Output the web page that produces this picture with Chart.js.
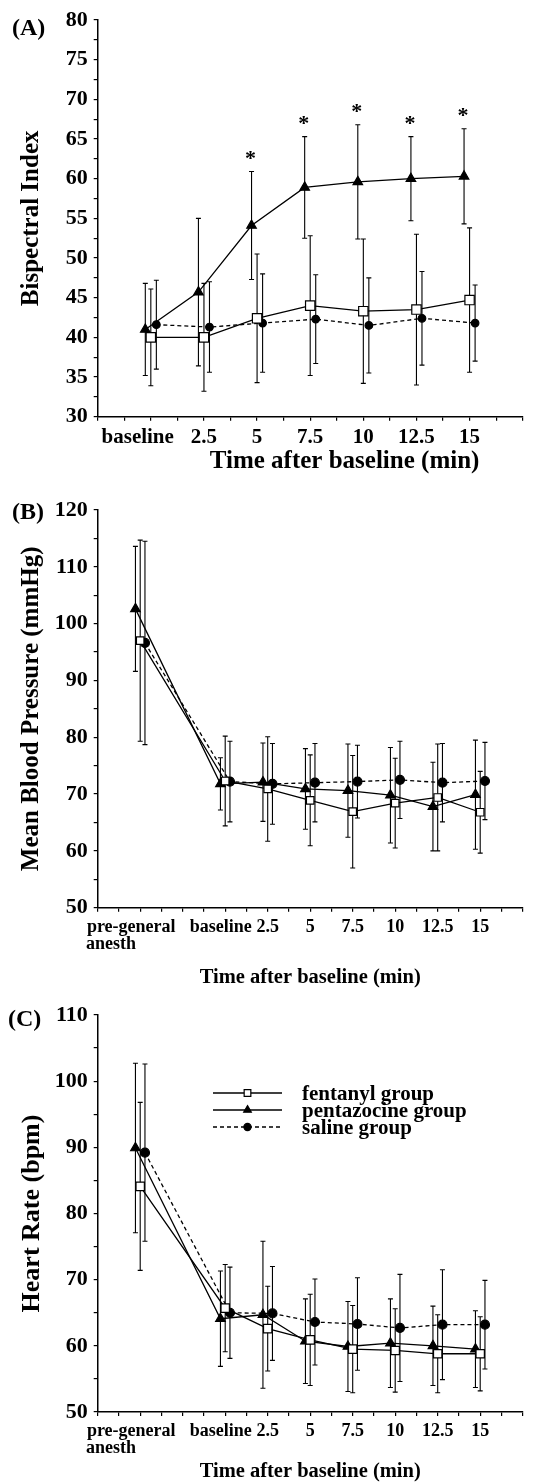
<!DOCTYPE html>
<html>
<head>
<meta charset="utf-8">
<title>BIS, mean blood pressure and heart rate</title>
<script src="https://cdn.jsdelivr.net/npm/chart.js@4.4.0/dist/chart.umd.min.js"></script>
<style>
  html, body { margin: 0; padding: 0; background: #fff; }
  body { position: relative; width: 538px; height: 1484px; overflow: hidden; }
  .panel { position: absolute; left: 0; width: 538px; }
</style>
</head>
<body>
<div class="panel" style="top:0;height:490px"><canvas id="panelA"></canvas></div>
<div class="panel" style="top:490px;height:505px"><canvas id="panelB"></canvas></div>
<div class="panel" style="top:995px;height:489px"><canvas id="panelC"></canvas></div>
<script>
// time points in minutes after baseline; -5 stands for the pre-general anesthesia reading
var timesA = [0, 2.5, 5, 7.5, 10, 12.5, 15];
var timeLabelsA = ['baseline', '2.5', '5', '7.5', '10', '12.5', '15'];
var timesBC = [-5, 0, 2.5, 5, 7.5, 10, 12.5, 15];
var timeLabelsBC = [['pre-general', 'anesth'], 'baseline', '2.5', '5', '7.5', '10', '12.5', '15'];

var groupNames = ['fentanyl group', 'pentazocine group', 'saline group'];

// (A) bispectral index, mean and SD
var bisFentanyl = [40.0, 40.0, 42.4, 44.0, 43.3, 43.5, 44.7];
var bisFentanylSd = [6.1, 6.8, 8.1, 8.8, 9.1, 9.5, 9.1];
var bisPentazocine = [41.0, 45.7, 54.1, 58.9, 59.6, 60.0, 60.3];
var bisPentazocineSd = [5.8, 9.3, 6.8, 6.4, 7.2, 5.3, 6.0];
var bisSaline = [41.6, 41.3, 41.8, 42.3, 41.5, 42.4, 41.8];
var bisSalineSd = [5.6, 5.7, 6.2, 5.6, 6.0, 5.9, 4.8];
var bisSignificant = [false, false, true, true, true, true, true];

// (B) mean blood pressure (mmHg)
var mapFentanyl = [97.0, 72.3, 70.9, 68.9, 66.9, 68.4, 69.4, 66.8];
var mapFentanylSd = [17.7, 7.9, 9.2, 8.0, 9.9, 7.9, 9.4, 7.2];
var mapPentazocine = [102.6, 71.8, 72.1, 70.9, 70.6, 69.8, 67.8, 69.9];
var mapPentazocineSd = [11.0, 4.6, 6.9, 7.1, 8.2, 8.4, 7.8, 9.6];
var mapSaline = [96.6, 72.2, 71.8, 72.0, 72.2, 72.5, 72.0, 72.3];
var mapSalineSd = [17.9, 7.1, 7.1, 6.9, 6.4, 6.8, 6.9, 6.8];

// (C) heart rate (bpm)
var hrFentanyl = [84.1, 65.7, 62.6, 60.9, 59.5, 59.3, 58.8, 58.8];
var hrFentanylSd = [12.7, 6.6, 6.4, 6.9, 6.6, 6.3, 5.9, 5.6];
var hrPentazocine = [89.9, 64.1, 64.7, 60.7, 59.9, 60.4, 60.0, 59.5];
var hrPentazocineSd = [12.8, 7.2, 11.1, 6.4, 6.8, 6.7, 6.0, 5.8];
var hrSaline = [89.2, 65.0, 64.9, 63.6, 63.3, 62.7, 63.2, 63.2];
var hrSalineSd = [13.4, 6.9, 7.1, 6.5, 7.0, 8.1, 8.3, 6.7];

var SERIF = "'Liberation Serif', 'Times New Roman', serif";

var font = function (size, lineHeight) {
    return { family: SERIF, size: size, weight: 'bold', lineHeight: lineHeight || 1.2 };
};

var measure = document.createElement('canvas').getContext('2d');

// pads text with spaces so a centred label ends up shifted / left aligned
var nudge = function (lines, size, shift) {
    measure.font = 'bold ' + size + 'px ' + SERIF;
    var sp = measure.measureText(' ').width;
    var widths = lines.map(function (l) { return measure.measureText(l).width; });
    var maxW = Math.max.apply(null, widths);
    return lines.map(function (l, i) {
        var n = Math.max(0, Math.round((maxW - widths[i] + 2 * Math.abs(shift)) / sp));
        var pad = new Array(n + 1).join(' ');
        return shift < 0 ? l + pad : pad + l;
    });
};

var errorBars = {
    id: 'errorBars',
    beforeDatasetsDraw: function (chart) {
        var ctx = chart.ctx, y = chart.scales.y;
        ctx.save();
        ctx.strokeStyle = '#000';
        ctx.lineWidth = 1.1;
        chart.data.datasets.forEach(function (ds, i) {
            var meta = chart.getDatasetMeta(i);
            meta.data.forEach(function (pt, j) {
                var top = y.getPixelForValue(ds.data[j].y + ds.sd[j]);
                var bot = y.getPixelForValue(ds.data[j].y - ds.sd[j]);
                ctx.beginPath();
                ctx.moveTo(pt.x, top); ctx.lineTo(pt.x, bot);
                ctx.moveTo(pt.x - 2.5, top); ctx.lineTo(pt.x + 2.5, top);
                ctx.moveTo(pt.x - 2.5, bot); ctx.lineTo(pt.x + 2.5, bot);
                ctx.stroke();
            });
        });
        ctx.restore();
    },
    afterDatasetsDraw: function (chart) {
        var ctx = chart.ctx, y = chart.scales.y;
        ctx.save();
        ctx.fillStyle = '#000';
        ctx.font = 'bold 22px ' + SERIF;
        ctx.textAlign = 'center';
        ctx.textBaseline = 'alphabetic';
        chart.data.datasets.forEach(function (ds, i) {
            if (!ds.stars) return;
            var meta = chart.getDatasetMeta(i);
            meta.data.forEach(function (pt, j) {
                if (!ds.stars[j]) return;
                ctx.fillText('*', pt.x - 1, y.getPixelForValue(ds.data[j].y + ds.sd[j]) - 7);
            });
        });
        ctx.restore();
    }
};

var panelText = {
    id: 'panelText',
    afterDraw: function (chart, args, opts) {
        var ctx = chart.ctx;
        ctx.save();
        ctx.fillStyle = '#000';
        ctx.font = 'bold 24px ' + SERIF;
        ctx.textBaseline = 'middle';
        ctx.fillText(opts.letter, opts.letterX, chart.chartArea.top + opts.letterDy);

        if (opts.legend) {
            var lg = opts.legend;
            ctx.font = 'bold ' + lg.size + 'px ' + SERIF;
            chart.data.datasets.forEach(function (ds, i) {
                var yy = lg.y + i * lg.row;
                ctx.save();
                ctx.strokeStyle = '#000';
                ctx.lineWidth = ds.borderWidth;
                ctx.setLineDash(ds.borderDash || []);
                ctx.beginPath();
                ctx.moveTo(lg.x, yy); ctx.lineTo(lg.x + lg.len, yy);
                ctx.stroke();
                ctx.setLineDash([]);
                ctx.fillStyle = ds.pointBackgroundColor;
                ctx.lineWidth = ds.pointBorderWidth;
                Chart.helpers.drawPoint(ctx, {
                    pointStyle: ds.pointStyle, radius: ds.pointRadius * 0.8,
                    rotation: 0, borderWidth: ds.pointBorderWidth
                }, lg.x + lg.len / 2, yy);
                ctx.restore();
                ctx.fillText(ds.label, lg.x + lg.len + lg.gap, yy + 2);
            });
        }
        ctx.restore();
    }
};

var series = function (times, values, shift) {
    return times.map(function (t, i) { return { x: t + shift, y: values[i] }; });
};

var drawPanel = function (canvasId, p) {
    var styles = [
        { pointStyle: 'rect', fill: '#fff', dash: [], radius: p.radii[0] },
        { pointStyle: 'triangle', fill: '#000', dash: [], radius: p.radii[1] },
        { pointStyle: 'circle', fill: '#000', dash: [4, 3], radius: p.radii[2] }
    ];
    var shifts = [0, -p.dodge, p.dodge];

    var datasets = p.groups.map(function (g, i) {
        return {
            label: groupNames[i],
            data: series(p.times, g[0], shifts[i]),
            sd: g[1],
            stars: i === 1 ? p.stars : null,
            borderColor: '#000',
            borderWidth: 1.3,
            borderDash: styles[i].dash,
            pointStyle: styles[i].pointStyle,
            pointRadius: styles[i].radius,
            pointBackgroundColor: styles[i].fill,
            pointBorderColor: '#000',
            pointBorderWidth: 1.2,
            tension: 0,
            fill: false
        };
    });

    var xLabel = function (value) {
        var idx = p.times.indexOf(value);
        if (idx < 0) return '';
        var lab = p.labels[idx];
        var lines = Array.isArray(lab) ? lab : [lab];
        var shift = p.labelShift[lines[0]];
        if (shift) lines = nudge(lines, p.xTickSize, -shift);
        return lines.length > 1 ? lines : lines[0];
    };

    var axisGrid = { drawOnChartArea: false, drawTicks: true, tickLength: 4, color: '#000', lineWidth: 1.2 };

    return new Chart(document.getElementById(canvasId), {
        type: 'line',
        data: { datasets: datasets },
        options: {
            responsive: true,
            maintainAspectRatio: false,
            animation: false,
            layout: { padding: { top: 20, right: 15.3, left: 0, bottom: 0 } },
            plugins: {
                legend: { display: false },
                tooltip: { enabled: false },
                panelText: { letter: p.letter, letterX: p.letterX, letterDy: p.letterDy, legend: p.legend }
            },
            scales: {
                x: {
                    type: 'linear',
                    min: p.xMin,
                    max: 17.5,
                    border: { color: '#000', width: 1.5 },
                    grid: axisGrid,
                    ticks: {
                        stepSize: 1.25, autoSkip: false, maxRotation: 0, minRotation: 0,
                        padding: p.xTickPad, color: '#000',
                        font: font(p.xTickSize, p.xTickLine),
                        callback: xLabel
                    },
                    title: {
                        display: true,
                        text: nudge(['Time after baseline (min)'], p.xTitleSize, p.xTitleShift)[0],
                        color: '#000',
                        font: font(p.xTitleSize),
                        padding: { top: 0, bottom: p.xTitlePad }
                    },
                    afterFit: function (s) { s.height = p.xHeight; }
                },
                y: {
                    min: p.yMin,
                    max: p.yMax,
                    border: { color: '#000', width: 1.5 },
                    grid: axisGrid,
                    ticks: {
                        stepSize: p.yStep / 2, autoSkip: false, padding: 6, color: '#000',
                        font: font(22),
                        callback: function (v) { return v % p.yStep === 0 ? v : ''; }
                    },
                    title: {
                        display: true, text: p.yTitle, color: '#000',
                        font: font(p.yTitleSize),
                        padding: { top: 17, bottom: 0 }
                    },
                    afterFit: function (s) { s.width = 97.7; }
                }
            }
        },
        plugins: [errorBars, panelText]
    });
};

drawPanel('panelA', {
    letter: '(A)', letterX: 12, letterDy: 9,
    times: timesA, labels: timeLabelsA, labelShift: { 'baseline': 12 },
    groups: [[bisFentanyl, bisFentanylSd], [bisPentazocine, bisPentazocineSd], [bisSaline, bisSalineSd]],
    stars: bisSignificant,
    radii: [6.6, 5.5, 3.8], dodge: 0.26,
    xMin: -2.5, xTickSize: 21, xTickLine: 1.2, xTickPad: 4, xHeight: 73.3,
    xTitleSize: 25, xTitlePad: 13, xTitleShift: 35,
    yMin: 30, yMax: 80, yStep: 5, yTitle: 'Bispectral Index', yTitleSize: 25
});

drawPanel('panelB', {
    letter: '(B)', letterX: 12, letterDy: 3,
    times: timesBC, labels: timeLabelsBC, labelShift: { 'baseline': 5.5, 'pre-general': 9 },
    groups: [[mapFentanyl, mapFentanylSd], [mapPentazocine, mapPentazocineSd], [mapSaline, mapSalineSd]],
    stars: null,
    radii: [5.3, 5.5, 4.5], dodge: 0.28,
    xMin: -7.5, xTickSize: 18, xTickLine: 0.95, xTickPad: 7, xHeight: 87.3,
    xTitleSize: 20.5, xTitlePad: 4.7, xTitleShift: 0,
    yMin: 50, yMax: 120, yStep: 10, yTitle: 'Mean Blood Pressure (mmHg)', yTitleSize: 25
});

drawPanel('panelC', {
    letter: '(C)', letterX: 8, letterDy: 5,
    times: timesBC, labels: timeLabelsBC, labelShift: { 'baseline': 5.5, 'pre-general': 9 },
    groups: [[hrFentanyl, hrFentanylSd], [hrPentazocine, hrPentazocineSd], [hrSaline, hrSalineSd]],
    stars: null,
    radii: [5.9, 5.5, 4.5], dodge: 0.28,
    xMin: -7.5, xTickSize: 18, xTickLine: 0.95, xTickPad: 7, xHeight: 72,
    xTitleSize: 20.5, xTitlePad: 0, xTitleShift: 0,
    yMin: 50, yMax: 110, yStep: 10, yTitle: 'Heart Rate (bpm)', yTitleSize: 26,
    legend: { x: 213, y: 98, len: 69, row: 17, gap: 20, size: 21 }
});
</script>
</body>
</html>
